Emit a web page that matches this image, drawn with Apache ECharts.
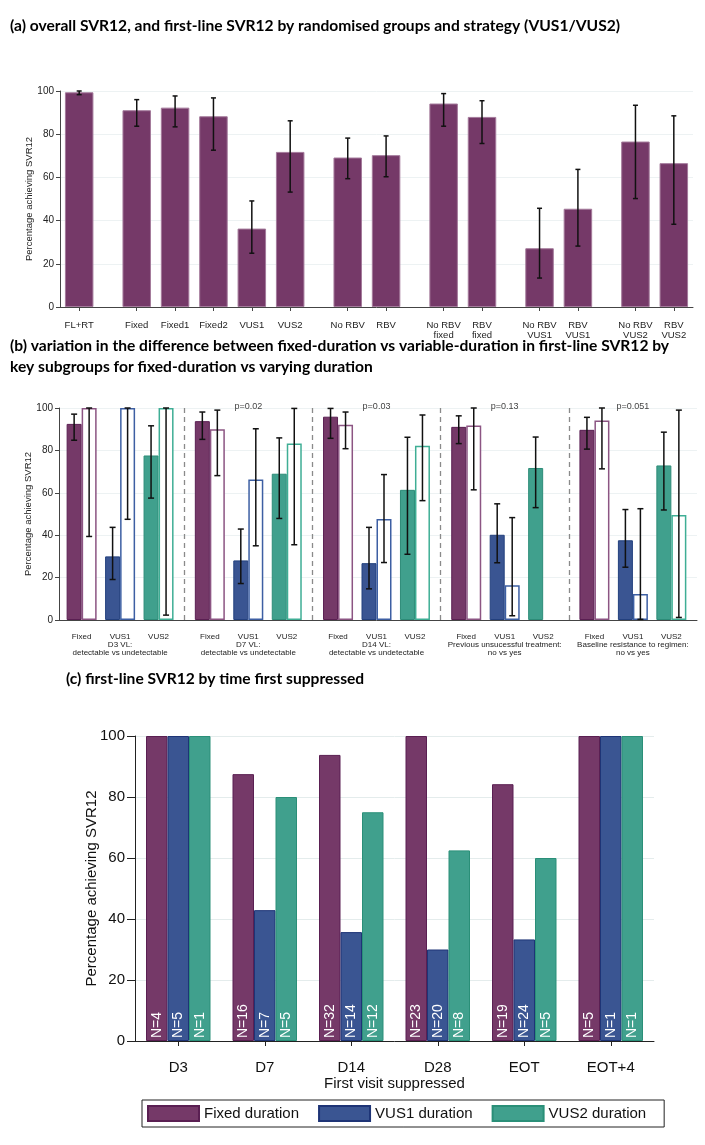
<!DOCTYPE html>
<html>
<head>
<meta charset="utf-8">
<script src="https://cdn.jsdelivr.net/npm/echarts@6/dist/echarts.min.js"></script>
<style>
  html, body { margin: 0; padding: 0; background: #fff; }
  #main { width: 705px; height: 1145px; }
</style>
</head>
<body>
<div id="main"></div>
<script>
// ---------- (a) overall / randomised groups ----------
const aCats = ['FL+RT', 'Fixed', 'Fixed1', 'Fixed2', 'VUS1', 'VUS2', 'No RBV', 'RBV', 'No RBV\nfixed', 'RBV\nfixed', 'No RBV\nVUS1', 'RBV\nVUS1', 'No RBV\nVUS2', 'RBV\nVUS2']
const aValues = [99.4, 91.1, 92.3, 88.3, 36.3, 71.8, 69.2, 70.3, 94.2, 88.0, 27.2, 45.5, 76.6, 66.6]
const aLow = [98.3, 83.7, 83.4, 72.6, 24.9, 53.2, 59.4, 60.3, 83.7, 75.7, 13.4, 28.2, 50.2, 38.3]
const aHigh = [100, 96.0, 97.7, 96.8, 49.1, 86.2, 78.2, 79.2, 98.8, 95.5, 45.7, 63.7, 93.4, 88.5]
// tick labels on a half-slot axis, blanks are the gaps between groups
const aTicks = ['', 'FL+RT', '', '', 'Fixed', '', 'Fixed1', '', 'Fixed2', '', 'VUS1', '', 'VUS2', '', '',
  'No RBV', '', 'RBV', '', '', 'No RBV\nfixed', '', 'RBV\nfixed', '', '', 'No RBV\nVUS1', '', 'RBV\nVUS1', '', '',
  'No RBV\nVUS2', '', 'RBV\nVUS2', '']

// ---------- (b) subgroups ----------
const bGroups = ['D3 VL:\ndetectable vs undetectable', 'D7 VL:\ndetectable vs undetectable', 'D14 VL:\ndetectable vs undetectable',
  'Previous unsucessful treatment:\nno vs yes', 'Baseline resistance to regimen:\nno vs yes']
const bArms = ['Fixed', 'VUS1', 'VUS2']
const bPvalues = ['', 'p=0.02', 'p=0.03', 'p=0.13', 'p=0.051']
// filled bars = first level (detectable / no), hollow bars = second level
const bFilled = [92.5, 30.0, 77.6, 93.8, 28.1, 69.0, 95.9, 26.8, 61.4, 91.1, 40.2, 71.7, 89.7, 37.6, 72.9]
const bFilledLow = [84.8, 19.1, 57.5, 85.2, 17.2, 47.9, 85.7, 14.7, 31.0, 83.2, 27.0, 53.0, 80.6, 24.9, 51.9]
const bFilledHigh = [97.1, 43.7, 91.6, 98.1, 42.9, 85.9, 99.8, 43.7, 86.2, 96.3, 54.8, 86.3, 95.6, 52.1, 88.6]
const bHollow = [100, 100, 100, 90.0, 66.3, 83.3, 92.1, 47.6, 82.2, 91.7, 16.4, null, 94.1, 12.3, 49.5]
const bHollowLow = [39.4, 47.5, 2.3, 68.1, 35.0, 35.5, 80.8, 27.1, 56.3, 61.4, 2.0, null, 71.3, 0.3, 1.2]
const bHollowHigh = [100, 100, 100, 99.0, 90.2, 99.8, 98.1, 68.6, 96.7, 100, 48.3, null, 100, 52.5, 99.0]

// ---------- (c) time first suppressed ----------
const cCats = ['D3', 'D7', 'D14', 'D28', 'EOT', 'EOT+4']
const cFixed = [100, 87.5, 93.8, 100, 84.2, 100]
const cVus1 = [100, 42.9, 35.7, 30.0, 33.3, 100]
const cVus2 = [100, 80.0, 75.0, 62.5, 60.0, 100]
const cFixedN = [4, 16, 32, 23, 19, 5]
const cVus1N = [5, 7, 14, 20, 24, 1]
const cVus2N = [1, 5, 12, 8, 5, 1]

const PURPLE = '#753968'
const BLUE = '#3a5592'
const GREEN = '#40a08d'
const armColors = [PURPLE, BLUE, GREEN]
const armBorders = ['#5a1f52', '#23407e', '#2d8c78']
const hollowBorders = ['#8c5583', '#3d5fa3', '#3fae95']
const FONT = 'Liberation Sans'
const TITLE_FONT = 'Lato'

// (a) built on tick array
let aBarData = aTicks.map(t => {
  let i = aCats.indexOf(t)
  return t !== '' && i >= 0 ? aValues[i] : null
})
let aErrData = aCats.map((c, i) => [aTicks.indexOf(c), aLow[i], aHigh[i]])

// (b) slots: 10 units per group, 3 per arm
const B_SLOTS = 51
let bSlot = (g, a) => 2 + 10 * g + 3 * a
let bTicks = new Array(B_SLOTS).fill('')
let bFilledData = new Array(B_SLOTS).fill(null)
let bHollowData = new Array(B_SLOTS).fill(null)
let bFilledErr = []
let bHollowErr = []
bGroups.forEach((g, gi) => {
  bArms.forEach((arm, ai) => {
    let k = gi * 3 + ai
    let s = bSlot(gi, ai)
    bTicks[s] = ai === 1 ? arm + '\n' + g : arm
    bFilledData[s] = { value: bFilled[k], itemStyle: { color: armColors[ai], borderColor: armBorders[ai] } }
    if (bHollow[k] !== null) {
      bHollowData[s] = { value: bHollow[k], itemStyle: { color: '#fff', borderColor: hollowBorders[ai] } }
      bHollowErr.push([s, bHollowLow[k], bHollowHigh[k]])
    }
    bFilledErr.push([s, bFilledLow[k], bFilledHigh[k]])
  })
})
let bSeparators = bGroups.slice(1).map((g, i) => ({ xAxis: 10 * (i + 1) }))
let bPData = []
bPvalues.forEach((p, gi) => { if (p) bPData.push([bSlot(gi, 1), 100, gi]) })

function errorBar(offset, capW) {
  return function (params, api) {
    let x = api.value(0)
    let lo = api.coord([x, api.value(1)])
    let hi = api.coord([x, api.value(2)])
    let cx = lo[0] + offset
    let style = { stroke: '#111', lineWidth: 1.5 }
    return {
      type: 'group',
      children: [
        { type: 'line', shape: { x1: cx, y1: lo[1], x2: cx, y2: hi[1] }, style },
        { type: 'line', shape: { x1: cx - capW / 2, y1: hi[1], x2: cx + capW / 2, y2: hi[1] }, style },
        { type: 'line', shape: { x1: cx - capW / 2, y1: lo[1], x2: cx + capW / 2, y2: lo[1] }, style }
      ]
    }
  }
}

function yAxisSmall(gridIndex, offset) {
  return {
    type: 'value', gridIndex, min: 0, max: 100, interval: 20, offset: offset || 0,
    name: 'Percentage achieving SVR12', nameLocation: 'middle', nameGap: 26, nameMoveOverlap: false,
    nameTextStyle: { fontFamily: FONT, fontSize: 9.5, color: '#222' },
    axisLine: { show: true, lineStyle: { color: '#444', width: 1 } },
    axisTick: { show: true, length: 4, lineStyle: { color: '#444' } },
    axisLabel: { fontFamily: FONT, fontSize: 10, color: '#222', margin: 6 },
    splitLine: { show: true, lineStyle: { color: '#edf2f3', width: 1 } }
  }
}

const titleStyle = { fontFamily: TITLE_FONT, fontWeight: 'bold', fontSize: 15.6, color: '#000' }

let myChart = echarts.init(document.getElementById('main'))

let option = {
  backgroundColor: '#fff',
  animation: false,
  title: [
    { text: '(a) overall SVR12, and first-line SVR12 by randomised groups and strategy (VUS1/VUS2)', left: 10, top: 18, padding: 0, textStyle: titleStyle },
    { text: '(b) variation in the difference between fixed-duration vs variable-duration in first-line SVR12 by\nkey subgroups for fixed-duration vs varying duration', left: 10, top: 335, padding: 0, textStyle: Object.assign({ lineHeight: 21 }, titleStyle) },
    { text: '(c) first-line SVR12 by time first suppressed', left: 66, top: 671, padding: 0, textStyle: titleStyle }
  ],
  grid: [
    { left: 60, top: 91, width: 633, height: 216, outerBoundsMode: 'none' },
    { left: 56, top: 408, width: 641, height: 212, outerBoundsMode: 'none' },
    { left: 135, top: 736, width: 519, height: 305, outerBoundsMode: 'none' }
  ],
  xAxis: [
    {
      type: 'category', gridIndex: 0, data: aTicks, boundaryGap: false, offset: 6,
      axisLine: { show: true, lineStyle: { color: '#444' } },
      axisTick: { show: true, length: 4, interval: (i, v) => v !== '', lineStyle: { color: '#444' } },
      axisLabel: { interval: 0, hideOverlap: false, fontFamily: FONT, fontSize: 9.5, lineHeight: 10, color: '#222', margin: 7 },
      splitLine: { show: false }
    },
    {
      type: 'category', gridIndex: 1, data: bTicks, boundaryGap: false, offset: 6,
      axisLine: { show: true, lineStyle: { color: '#444' } },
      axisTick: { show: false },
      axisLabel: { interval: 0, hideOverlap: false, fontFamily: FONT, fontSize: 8, lineHeight: 8, color: '#222', margin: 7 },
      splitLine: { show: false }
    },
    {
      type: 'category', gridIndex: 2, data: cCats, boundaryGap: true, offset: 9,
      name: 'First visit suppressed', nameLocation: 'middle', nameGap: 26, nameMoveOverlap: false,
      nameTextStyle: { fontFamily: FONT, fontSize: 15, color: '#111' },
      axisLine: { show: true, lineStyle: { color: '#222' } },
      axisTick: { show: true, alignWithLabel: true, length: 5, lineStyle: { color: '#222' } },
      axisLabel: { interval: 0, fontFamily: FONT, fontSize: 15, color: '#111', margin: 10 },
      splitLine: { show: false }
    }
  ],
  yAxis: [
    yAxisSmall(0, 0),
    yAxisSmall(1, -3),
    {
      type: 'value', gridIndex: 2, min: 0, max: 100, interval: 20,
      name: 'Percentage achieving SVR12', nameLocation: 'middle', nameGap: 36, nameMoveOverlap: false,
      nameTextStyle: { fontFamily: FONT, fontSize: 15, color: '#111' },
      axisLine: { show: true, lineStyle: { color: '#222', width: 1 } },
      axisTick: { show: true, length: 8, lineStyle: { color: '#222' } },
      axisLabel: { fontFamily: FONT, fontSize: 15, color: '#111', margin: 10 },
      splitLine: { show: true, lineStyle: { color: '#e4ecec', width: 1 } }
    }
  ],
  legend: {
    data: ['Fixed duration', 'VUS1 duration', 'VUS2 duration'],
    left: 142, top: 1100,
    icon: 'rect',
    itemWidth: 51, itemHeight: 15, itemGap: 19,
    padding: [5, 18, 5, 5],
    borderColor: '#222', borderWidth: 1, borderRadius: 0,
    textStyle: { fontFamily: FONT, fontSize: 15, color: '#111' }
  },
  series: [
    // (a)
    {
      name: 'overall', type: 'bar', xAxisIndex: 0, yAxisIndex: 0, data: aBarData, barWidth: 28.5,
      itemStyle: { color: PURPLE, borderColor: '#a47a9b', borderWidth: 1 }
    },
    {
      name: 'overall CI', type: 'custom', xAxisIndex: 0, yAxisIndex: 0, data: aErrData, z: 5,
      renderItem: errorBar(0, 5)
    },
    // (b)
    {
      name: 'level 1', type: 'bar', xAxisIndex: 1, yAxisIndex: 1, data: bFilledData, barWidth: 15, barGap: '0%',
      itemStyle: { borderWidth: 1 }
    },
    {
      name: 'level 2', type: 'bar', xAxisIndex: 1, yAxisIndex: 1, data: bHollowData, barWidth: 15, barGap: '0%',
      itemStyle: { borderWidth: 1.5 }
    },
    {
      name: 'level 1 CI', type: 'custom', xAxisIndex: 1, yAxisIndex: 1, data: bFilledErr, z: 5,
      renderItem: errorBar(-7.5, 6)
    },
    {
      name: 'level 2 CI', type: 'custom', xAxisIndex: 1, yAxisIndex: 1, data: bHollowErr, z: 5,
      renderItem: errorBar(7.5, 6)
    },
    {
      name: 'p values', type: 'custom', xAxisIndex: 1, yAxisIndex: 1, data: bPData, z: 6,
      renderItem: function (params, api) {
        let p = api.coord([api.value(0), api.value(1)])
        return {
          type: 'text', x: p[0], y: p[1] - 1,
          style: { text: bPvalues[api.value(2)], fill: '#444', fontSize: 9, fontFamily: FONT, align: 'center', verticalAlign: 'middle' }
        }
      },
      markLine: {
        silent: true, symbol: ['none', 'none'], label: { show: false },
        lineStyle: { type: [5, 4], color: '#8a8a8a', width: 1.3 },
        data: bSeparators
      }
    },
    // (c)
    {
      name: 'Fixed duration', type: 'bar', xAxisIndex: 2, yAxisIndex: 2, data: cFixed, barWidth: 21.5, barGap: '0%',
      itemStyle: { color: PURPLE, borderColor: '#5a1f52', borderWidth: 1 },
      label: {
        show: true, position: 'insideBottom', rotate: 90, align: 'left', verticalAlign: 'middle', distance: 3,
        color: '#fff', fontFamily: FONT, fontSize: 14,
        formatter: p => 'N=' + cFixedN[p.dataIndex]
      }
    },
    {
      name: 'VUS1 duration', type: 'bar', xAxisIndex: 2, yAxisIndex: 2, data: cVus1, barWidth: 21.5, barGap: '0%',
      itemStyle: { color: BLUE, borderColor: '#1e3476', borderWidth: 1 },
      label: {
        show: true, position: 'insideBottom', rotate: 90, align: 'left', verticalAlign: 'middle', distance: 3,
        color: '#fff', fontFamily: FONT, fontSize: 14,
        formatter: p => 'N=' + cVus1N[p.dataIndex]
      }
    },
    {
      name: 'VUS2 duration', type: 'bar', xAxisIndex: 2, yAxisIndex: 2, data: cVus2, barWidth: 21.5, barGap: '0%',
      itemStyle: { color: GREEN, borderColor: '#2a8f78', borderWidth: 1 },
      label: {
        show: true, position: 'insideBottom', rotate: 90, align: 'left', verticalAlign: 'middle', distance: 3,
        color: '#fff', fontFamily: FONT, fontSize: 14,
        formatter: p => 'N=' + cVus2N[p.dataIndex]
      }
    }
  ]
}

myChart.setOption(option)
</script>
</body>
</html>
